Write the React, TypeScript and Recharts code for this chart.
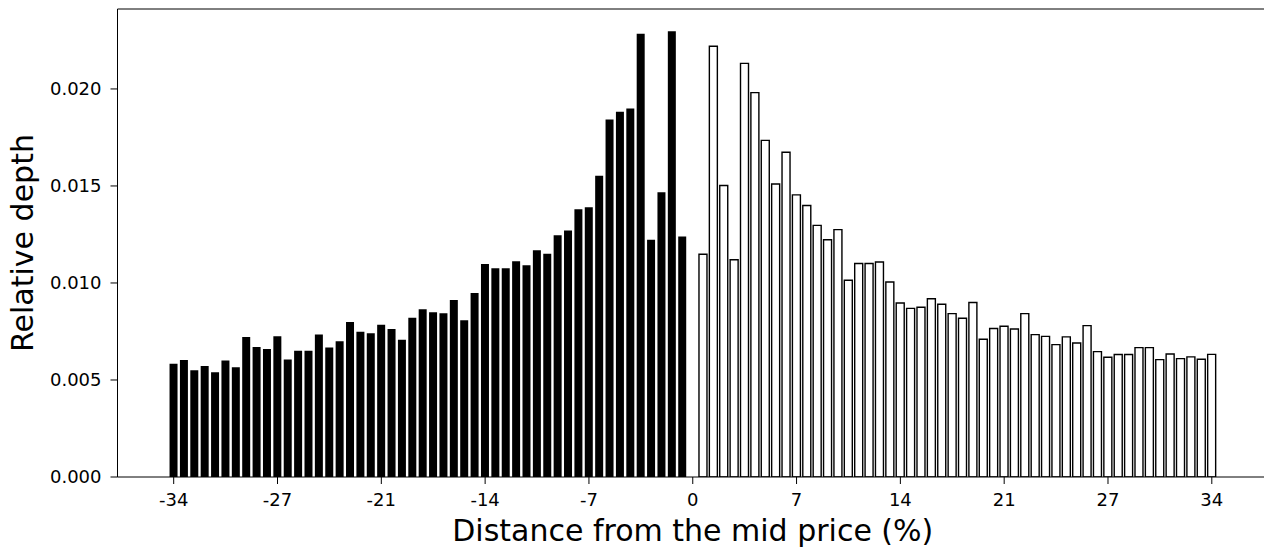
import React from 'react';
import { BarChart, Bar, Cell, XAxis, YAxis, Label, ReferenceLine } from 'recharts';

// bid side, far to near (-34 .. just below 0)
const bidDepth = [
  0.00584, 0.00603, 0.0055, 0.00572, 0.0054, 0.00601, 0.00565, 0.00722, 0.0067, 0.0066,
  0.00725, 0.00606, 0.00651, 0.00651, 0.00735, 0.00667, 0.00699, 0.00799, 0.00749, 0.00741,
  0.00785, 0.00763, 0.00708, 0.00821, 0.00864, 0.00849, 0.00844, 0.00912, 0.00808, 0.00948,
  0.01098, 0.01076, 0.01076, 0.01112, 0.01091, 0.01168, 0.01151, 0.01246, 0.01271, 0.0138,
  0.0139, 0.01552, 0.01842, 0.01883, 0.01899, 0.02285, 0.01223, 0.01467, 0.02297, 0.01239,
];

// ask side, near to far (just above 0 .. 34)
const askDepth = [
  0.01148, 0.0222, 0.01502, 0.0112, 0.02132, 0.01981, 0.01735, 0.0151, 0.01674, 0.01454,
  0.01399, 0.01297, 0.01223, 0.01275, 0.01014, 0.011, 0.011, 0.01108, 0.01005, 0.00897,
  0.00869, 0.00875, 0.00919, 0.0089, 0.00842, 0.00818, 0.00899, 0.0071, 0.00765, 0.00777,
  0.00763, 0.00842, 0.00734, 0.00725, 0.00682, 0.00722, 0.00691, 0.0078, 0.00646, 0.00617,
  0.00631, 0.00631, 0.00667, 0.00667, 0.00605, 0.00634, 0.0061, 0.00619, 0.00607, 0.00632,
];

const tickLabels = ['-34', '-27', '-21', '-14', '-7', '0', '7', '14', '21', '27', '34'];
const yTicks = [0, 0.005, 0.01, 0.015, 0.02];
const yMax = 0.02412;

const FONT = '"DejaVu Sans", sans-serif';

const rows = [
  ...bidDepth.map((v) => ({ depth: v as number | null, side: 'bid' })),
  { depth: null, side: 'mid' },
  ...askDepth.map((v) => ({ depth: v as number | null, side: 'ask' })),
].map((r, i) => ({ ...r, slot: i }));

const App = () => {
  return (
    <div style={{ position: 'absolute', left: 0, top: 0, width: 1264, height: 547, overflow: 'hidden', background: '#fff' }}>
      <BarChart
        width={1300}
        height={547}
        data={rows}
        margin={{ top: 9, right: 32, bottom: 0, left: 0 }}
        barCategoryGap="10%"
      >
        <XAxis
          dataKey="slot"
          type="category"
          interval={9}
          padding={{ left: 51, right: 51 }}
          height={70}
          tickSize={7}
          tickMargin={9}
          tickFormatter={(v) => tickLabels[Math.round(Number(v) / 10)] ?? ''}
          tick={{ fill: '#000', fontSize: 18, fontFamily: FONT }}
          axisLine={{ stroke: '#000', strokeWidth: 1 }}
          tickLine={{ stroke: '#000', strokeWidth: 1 }}
        >
          <Label
            content={({ viewBox }: any) => (
              <text
                x={viewBox.x + viewBox.width / 2}
                y={541}
                textAnchor="middle"
                fontSize={30}
                fontFamily={FONT}
                fill="#000"
              >
                Distance from the mid price (%)
              </text>
            )}
          />
        </XAxis>
        <YAxis
          type="number"
          domain={[0, yMax]}
          ticks={yTicks}
          allowDataOverflow
          width={117.5}
          tickSize={7}
          tickMargin={9}
          tickFormatter={(v) => Number(v).toFixed(3)}
          tick={{ fill: '#000', fontSize: 18, fontFamily: FONT }}
          axisLine={{ stroke: '#000', strokeWidth: 1 }}
          tickLine={{ stroke: '#000', strokeWidth: 1 }}
        >
          <Label
            content={({ viewBox }: any) => (
              <text
                x={33}
                y={viewBox.y + viewBox.height / 2}
                transform={`rotate(-90, 33, ${viewBox.y + viewBox.height / 2})`}
                textAnchor="middle"
                fontSize={30}
                fontFamily={FONT}
                fill="#000"
              >
                Relative depth
              </text>
            )}
          />
        </YAxis>
        <ReferenceLine y={yMax} stroke="#000" strokeWidth={1} />
        <Bar dataKey="depth" isAnimationActive={false}>
          {rows.map((r, i) => (
            <Cell
              key={`cell-${i}`}
              fill={r.side === 'bid' ? '#000' : '#fff'}
              stroke={r.side === 'ask' ? '#000' : 'none'}
              strokeWidth={r.side === 'ask' ? 1.4 : 0}
            />
          ))}
        </Bar>
      </BarChart>
    </div>
  );
};

export default App;
